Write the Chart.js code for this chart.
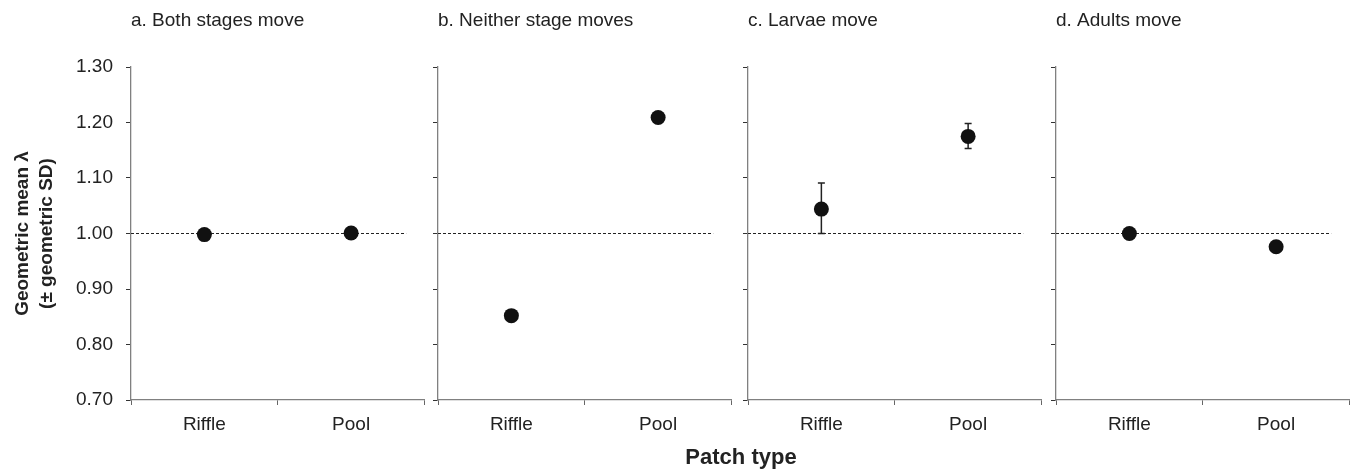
<!DOCTYPE html>
<html>
<head>
<meta charset="utf-8">
<script src="https://cdn.jsdelivr.net/npm/chart.js@4/dist/chart.umd.min.js"></script>
<style>
  html, body { margin: 0; padding: 0; background: #fff; overflow: hidden; }
  body { width: 1354px; height: 473px; position: relative; font-family: "Liberation Sans", Arial, sans-serif; }
  .panel { position: absolute; top: 0; height: 473px; }
  #xtitle { position: absolute; left: 0; width: 1482px; top: 446px; text-align: center;
            font: bold 22px "Liberation Sans", Arial, sans-serif; color: #222; line-height: 22px; }
</style>
</head>
<body>
<div class="panel" style="left:0px;width:432px"><canvas id="cA"></canvas></div>
<div class="panel" style="left:418px;width:321px"><canvas id="cB"></canvas></div>
<div class="panel" style="left:728px;width:321px"><canvas id="cC"></canvas></div>
<div class="panel" style="left:1036px;width:321px"><canvas id="cD"></canvas></div>
<div id="xtitle">Patch type</div>
<script>
// ---- data ----
const categories = ['Riffle', 'Pool'];
const panelTitles = ['a. Both stages move', 'b. Neither stage moves', 'c. Larvae move', 'd. Adults move'];
const meanBoth    = [0.998, 1.001];
const meanNeither = [0.852, 1.209];
const meanLarvae  = [1.044, 1.175];
const meanAdults  = [1.000, 0.976];
const upperLarvae = [1.091, 1.198];
const lowerLarvae = [1.000, 1.153];
const yTicks = [0.70, 0.80, 0.90, 1.00, 1.10, 1.20, 1.30];
const xTicks = [0, 0.5, 1, 1.5, 2];
const referenceValue = 1.00;
const referenceEnd = 1.875;
const yTitle = ['Geometric mean \u03bb', '(\u00b1 geometric SD)'];

const FONT = '"Liberation Sans", Arial, sans-serif';
const TEXT = '#222';

const panelTitlePlugin = {
  id: 'panelTitle',
  afterDraw(chart, args, opts) {
    const ctx = chart.ctx;
    ctx.save();
    ctx.font = '19px ' + FONT;
    ctx.fillStyle = TEXT;
    ctx.textAlign = 'left';
    ctx.textBaseline = 'alphabetic';
    ctx.fillText(opts.text, chart.chartArea.left, 26);
    ctx.restore();
  }
};

const errorBarPlugin = {
  id: 'errorBars',
  beforeDatasetsDraw(chart, args, opts) {
    if (!opts.upper) return;
    const ctx = chart.ctx, xs = chart.scales.x, ys = chart.scales.y;
    ctx.save();
    ctx.strokeStyle = '#222';
    ctx.lineWidth = 1.5;
    opts.upper.forEach((u, i) => {
      const l = opts.lower[i];
      const x = xs.getPixelForValue(i + 0.5);
      const yu = ys.getPixelForValue(u), yl = ys.getPixelForValue(l);
      ctx.beginPath();
      ctx.moveTo(x, yu); ctx.lineTo(x, yl);
      ctx.moveTo(x - 3.5, yu); ctx.lineTo(x + 3.5, yu);
      ctx.moveTo(x - 3.5, yl); ctx.lineTo(x + 3.5, yl);
      ctx.stroke();
    });
    ctx.restore();
  }
};

function makePanel(id, title, means, showY, yAxisWidth, upper, lower) {
  const points = means.map((m, i) => ({ x: i + 0.5, y: m }));
  new Chart(document.getElementById(id), {
    type: 'scatter',
    data: {
      datasets: [
        {
          type: 'line',
          data: [{ x: 0, y: referenceValue }, { x: referenceEnd, y: referenceValue }],
          borderColor: '#222', borderWidth: 1, borderDash: [3, 2],
          pointRadius: 0, fill: false, order: 2
        },
        {
          data: points,
          pointRadius: 7.5, pointHoverRadius: 7.5,
          backgroundColor: '#111', borderColor: '#111', borderWidth: 0, order: 1
        }
      ]
    },
    options: {
      responsive: true,
      maintainAspectRatio: false,
      animation: false,
      events: [],
      layout: { padding: { top: 67, right: 5, bottom: 0, left: 0 } },
      plugins: {
        legend: { display: false },
        tooltip: { enabled: false },
        panelTitle: { text: title },
        errorBars: { upper: upper, lower: lower }
      },
      scales: {
        x: {
          type: 'linear', min: 0, max: 2,
          afterBuildTicks: s => { s.ticks = xTicks.map(v => ({ value: v })); },
          afterFit: s => { s.height = 73; s.paddingLeft = 0; s.paddingRight = 0; },
          border: { display: true, color: '#808080', width: 1.3 },
          grid: {
            drawOnChartArea: false, drawTicks: true, tickLength: 5,
            tickColor: c => (c.tick && Number.isInteger(c.tick.value)) ? '#666' : 'rgba(0,0,0,0)'
          },
          ticks: {
            autoSkip: false, maxRotation: 0, padding: 8,
            color: TEXT, font: { family: FONT, size: 19 },
            callback: v => { const i = v - 0.5; return Number.isInteger(i) ? categories[i] : ''; }
          }
        },
        y: {
          type: 'linear', min: 0.7, max: 1.3,
          afterBuildTicks: s => { s.ticks = yTicks.map(v => ({ value: v })); },
          afterFit: s => { s.width = yAxisWidth; },
          border: { display: true, color: '#808080', width: 1.3 },
          grid: { drawOnChartArea: false, drawTicks: true, tickLength: 5, tickColor: '#333' },
          ticks: {
            padding: 13, color: TEXT, font: { family: FONT, size: 19 },
            callback: v => showY ? v.toFixed(2) : ''
          },
          title: {
            display: showY, text: yTitle, color: TEXT,
            font: { family: FONT, size: 19, weight: 'bold', lineHeight: 1.3 },
            padding: { top: 10, bottom: 0 }
          }
        }
      }
    },
    plugins: [panelTitlePlugin, errorBarPlugin]
  });
}

makePanel('cA', panelTitles[0], meanBoth, true, 131);
makePanel('cB', panelTitles[1], meanNeither, false, 20);
makePanel('cC', panelTitles[2], meanLarvae, false, 20, upperLarvae, lowerLarvae);
makePanel('cD', panelTitles[3], meanAdults, false, 20);
</script>
</body>
</html>
